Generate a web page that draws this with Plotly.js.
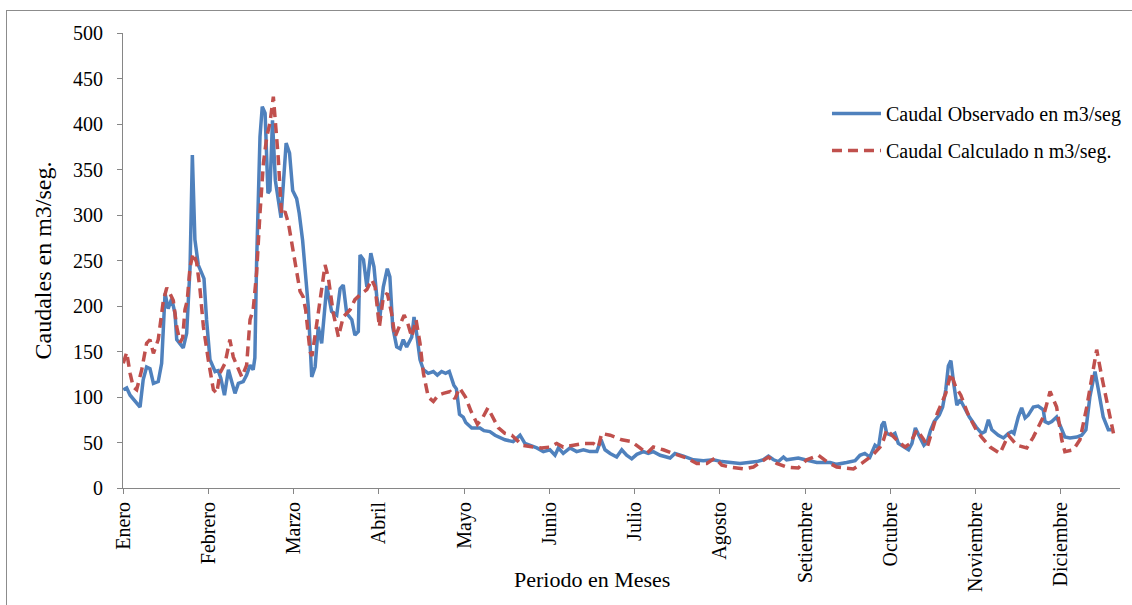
<!DOCTYPE html>
<html>
<head>
<meta charset="utf-8">
<script src="https://cdn.plot.ly/plotly-3.0.1.min.js"></script>
<style>
  html, body { margin: 0; padding: 0; background: #fff; }
  #wrap { position: relative; width: 1132px; height: 605px; }
  #chart { width: 1132px; height: 605px; }
  #frame { position: absolute; left: 6px; top: 10px; width: 1200px; height: 700px;
           border-left: 1px solid #8c8c8c; border-top: 1px solid #8c8c8c; pointer-events: none; }
</style>
</head>
<body>
<div id="wrap"><div id="chart"></div><div id="frame"></div></div>
<script>
// Month tick labels (one every 30 days on the category axis)
const monthTicks = [0, 30, 60, 90, 120, 150, 180, 210, 240, 270, 300, 330];
const monthNames = ["Enero", "Febrero", "Marzo", "Abril", "Mayo", "Junio", "Julio",
                    "Agosto", "Setiembre", "Octubre", "Noviembre", "Diciembre"];

// Caudal Observado (day index, m3/s)
const obsDay = [0.1,1.3,2.5,6.0,7.1,8.3,9.5,10.7,12.4,13.6,14.8,15.9,17.1,18.3,18.9,21.2,22.4,23.0,23.6,24.4,
  25.3,26.5,28.5,29.4,30.6,32.4,33.5,34.4,35.7,37.1,38.2,39.4,40.6,42.3,43.5,44.7,45.8,46.4,47.0,48.2,
  49.0,50.0,51.0,51.7,52.6,53.6,55.6,57.4,58.6,59.7,61.1,62.0,63.2,65.2,66.4,67.6,68.7,69.9,71.7,73.4,
  75.2,76.4,77.5,78.7,80.5,81.6,82.8,83.4,84.6,85.8,87.2,88.3,89.3,90.4,91.6,93.0,93.9,94.9,96.3,97.5,
  98.6,99.8,101.6,102.4,103.3,104.5,105.7,107.4,109.2,110.6,112.1,113.5,114.8,116.4,117.3,118.4,119.7,120.6,122.7,125.6,
  127.0,129.1,130.9,134.4,137.3,139.7,141.4,145.6,147.9,150.2,152.0,153.2,154.9,157.3,159.6,162.0,164.3,166.7,168.2,169.6,
  171.4,173.7,175.5,177.2,179.0,180.8,183.1,184.8,186.6,189.0,192.5,194.2,197.2,200.7,204.2,207.7,210.7,217.1,223.0,225.3,
  227.1,228.9,230.6,232.4,233.5,237.6,240.0,241.8,244.1,248.8,251.1,254.6,257.6,259.3,261.0,262.8,264.6,265.8,267.0,267.8,
  268.7,270.5,271.6,272.8,274.6,276.4,277.6,278.8,280.0,281.8,283.0,284.2,285.4,287.2,288.4,289.5,290.4,291.3,292.2,293.4,
  294.6,296.0,297.8,300.2,302.1,303.3,304.5,305.7,308.0,309.8,311.5,312.7,313.5,315.0,316.2,317.4,318.5,320.3,322.0,323.8,
  324.4,325.6,326.8,328.5,329.7,331.4,333.2,335.6,337.3,338.8,340.2,342.0,343.2,344.9,346.7,347.9];
const obsQ = [108,110,102,89,119,133,131,115,117,137,214,197,208,192,163,154,170,207,243,366,
  273,245,230,185,141,128,129,121,102,130,119,104,115,117,124,135,130,143,247,386,
  419,412,324,327,404,338,297,379,368,327,318,302,272,199,122,133,177,159,222,194,
  190,219,223,192,185,168,172,256,251,221,258,243,210,188,221,241,232,177,155,153,
  163,155,166,188,170,141,130,126,128,124,128,126,128,113,109,81,78,72,66,66,
  63,62,58,53,51,58,49,44,40,42,36,44,38,44,40,42,40,40,53,42,
  38,34,42,36,32,37,40,38,40,36,33,38,35,31,30,31,29,27,29,31,
  35,31,29,34,31,33,31,30,28,28,26,28,30,36,38,34,47,44,69,73,
  60,58,60,49,45,42,49,66,58,47,51,64,73,80,89,108,134,140,117,91,
  97,89,78,67,60,62,75,64,58,55,60,62,60,78,88,77,80,89,90,86,
  73,71,73,78,69,56,55,56,58,64,100,128,108,78,64,64];

// Caudal Calculado (day index, m3/s)
const calDay = [0.1,1.3,2.5,3.6,4.8,6.6,8.3,9.5,10.7,12.4,14.2,15.4,16.5,17.7,18.9,20.1,21.0,21.8,22.6,23.6,
  24.7,25.9,27.1,28.3,30.0,31.8,33.0,34.1,35.9,37.1,37.6,38.8,40.6,41.8,43.5,44.7,45.8,47.0,48.2,49.4,
  50.6,51.7,52.9,53.5,54.6,55.8,57.0,58.2,58.8,61.1,62.3,63.4,64.3,65.8,66.5,67.6,69.3,71.1,72.2,74.0,
  75.8,77.5,79.9,81.6,84.0,85.8,87.5,88.7,90.2,91.6,93.0,94.5,95.7,97.5,98.9,100.0,101.6,103.1,104.5,105.7,
  107.4,109.2,110.9,112.7,115.1,116.8,118.4,120.5,122.5,124.7,126.5,128.4,130.3,132.1,134.4,136.8,138.5,140.3,144.4,147.3,
  150.2,152.6,154.9,158.5,162.0,165.5,167.3,168.4,171.4,175.5,179.0,181.9,184.3,186.6,190.1,193.6,198.3,201.9,205.4,208.3,
  210.7,213.6,217.1,218.3,221.8,224.7,227.1,230.0,233.5,237.6,240.6,244.7,247.6,251.1,254.6,257.0,259.9,261.7,263.7,266.4,
  267.6,268.7,270.5,272.8,275.2,277.0,279.3,281.8,283.0,284.2,286.5,289.5,291.3,293.0,294.8,297.2,300.2,302.1,305.1,308.6,
  311.5,314.5,318.0,320.3,323.8,326.2,328.5,330.3,331.4,334.4,336.7,339.1,341.4,342.6,344.4,346.7,348.5];
const calQ = [137,149,126,111,108,130,159,163,148,163,206,220,214,206,177,160,165,196,206,243,
  258,248,218,177,141,108,104,126,137,159,163,144,130,122,135,185,196,236,302,357,
  386,401,430,405,364,300,304,291,280,243,216,210,195,150,145,168,207,245,232,192,
  166,188,196,207,214,218,229,221,177,210,214,192,166,181,190,183,166,185,159,126,
  100,95,102,104,106,98,110,100,84,70,77,88,77,66,60,58,53,47,45,44,
  45,49,45,47,49,49,45,60,58,53,51,44,38,45,42,38,33,27,27,33,
  25,23,21,21,23,29,34,27,23,22,31,36,29,23,22,21,27,31,36,45,
  53,64,58,51,45,49,64,53,45,58,82,104,126,111,102,82,64,56,45,38,
  58,47,44,56,78,106,89,53,40,42,53,89,133,152,122,89,60];

const traces = [
  { x: obsDay, y: obsQ, type: 'scatter', mode: 'lines', name: 'Caudal Observado en m3/seg',
    legendgroup: 'a', line: { color: '#4F81BD', width: 3.5 } },
  { x: calDay, y: calQ, type: 'scatter', mode: 'lines', name: 'Caudal Calculado n m3/seg.',
    legendgroup: 'b', line: { color: '#C0504D', width: 3.5, dash: '10px,6px' } }
];

const axisCol = '#868686';
const serif = '"Liberation Serif", "Times New Roman", serif';

const layout = {
  width: 1132, height: 605,
  paper_bgcolor: '#ffffff', plot_bgcolor: '#ffffff',
  margin: { l: 123, r: 12, t: 33, b: 117, autoexpand: false },
  font: { family: serif, color: '#000000', size: 20 },
  showlegend: true,
  legend: { x: 1.006, y: 0.866, xanchor: 'right', yanchor: 'top', itemwidth: 49,
            font: { family: serif, size: 20, color: '#000' }, traceorder: 'grouped',
            tracegroupgap: 8, bgcolor: 'rgba(0,0,0,0)' },
  xaxis: {
    range: [0, 350.8], tickmode: 'array', tickvals: monthTicks, ticktext: monthNames,
    tickangle: -90, ticks: 'outside', ticklen: 5, tickcolor: axisCol, tickwidth: 1,
    showline: true, linecolor: axisCol, linewidth: 1, showgrid: false, zeroline: false,
    tickfont: { family: serif, size: 20, color: '#000' }
  },
  yaxis: {
    range: [0, 500], dtick: 50, tick0: 0, ticks: 'outside', ticklen: 5, tickcolor: axisCol,
    showline: true, linecolor: axisCol, linewidth: 1, showgrid: false, zeroline: false,
    tickfont: { family: serif, size: 20, color: '#000' }, ticklabelstandoff: 10,
    title: { text: 'Caudales en m3/seg.', font: { family: serif, size: 24, color: '#000' }, standoff: 14 }
  },
  annotations: [
    { text: 'Periodo en Meses', xref: 'paper', yref: 'paper', x: (592 - 123) / 997, y: -(579 - 488) / 455,
      xanchor: 'center', yanchor: 'middle', showarrow: false,
      font: { family: serif, size: 22, color: '#000' } }
  ]
};

Plotly.newPlot('chart', traces, layout, { displayModeBar: false, staticPlot: true });
</script>
</body>
</html>
